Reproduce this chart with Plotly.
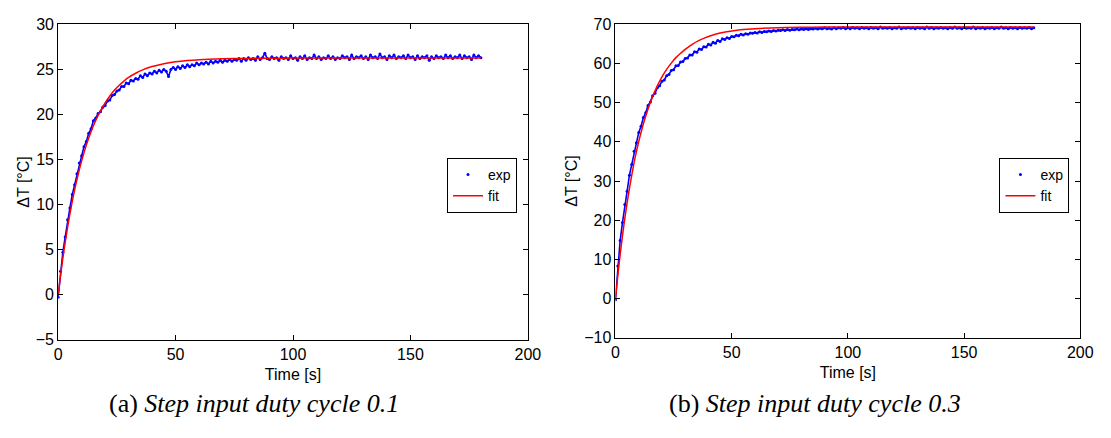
import plotly.graph_objects as go

# ---------------- data ----------------
# time axis of the measurements, one sample per second
t_exp = list(range(0, 181))

# duty cycle 0.1: measured temperature rise [°C]
exp_a = [
    -0.3, 2.6, 4.7, 6.4, 8.3, 9.6, 11.1, 12.2, 13.4, 14.6,
    15.4, 16.4, 17.0, 17.9, 18.4, 19.3, 19.6, 20.1, 20.3, 20.8,
    21.0, 21.5, 21.6, 22.1, 22.2, 22.6, 22.7, 23.1, 23.1, 23.5,
    23.4, 23.8, 23.7, 24.0, 23.9, 24.3, 24.1, 24.5, 24.3, 24.6,
    24.5, 24.8, 24.6, 24.9, 24.7, 25.0, 24.8, 24.2, 25.0, 25.2,
    25.0, 25.3, 25.1, 25.4, 25.2, 25.5, 25.3, 25.5, 25.4, 25.7,
    25.5, 25.7, 25.6, 25.8, 25.6, 25.9, 25.7, 25.9, 25.8, 26.0,
    25.8, 26.0, 25.9, 26.1, 25.9, 26.1, 26.0, 26.2, 25.9, 26.2,
    26.0, 26.3, 26.1, 26.2, 26.0, 26.4, 26.1, 26.3, 26.8, 26.2,
    26.1, 26.4, 26.2, 26.3, 26.0, 26.4, 26.2, 26.3, 26.1, 26.5,
    26.2, 26.3, 26.0, 26.4, 26.2, 26.5, 26.1, 26.3, 26.2, 26.6,
    26.2, 26.4, 26.1, 26.3, 26.2, 26.5, 26.2, 26.4, 26.1, 26.3,
    26.2, 26.5, 26.3, 26.4, 26.1, 26.6, 26.2, 26.4, 26.3, 26.5,
    26.2, 26.4, 26.1, 26.6, 26.3, 26.4, 26.2, 26.7, 26.3, 26.4,
    26.1, 26.5, 26.3, 26.6, 26.2, 26.4, 26.3, 26.5, 26.2, 26.6,
    26.3, 26.4, 26.1, 26.5, 26.2, 26.4, 26.3, 26.5, 26.0, 26.4,
    26.2, 26.5, 26.3, 26.4, 26.2, 26.6, 26.3, 26.5, 26.2, 26.4,
    26.3, 26.6, 26.2, 26.5, 26.3, 26.4, 26.1, 26.6, 26.3, 26.5,
    26.3,
]

# duty cycle 0.3: measured temperature rise [°C]
exp_b = [
    -0.3, 8.3, 14.8, 19.4, 24.0, 27.4, 31.5, 34.2, 37.6, 39.8,
    42.4, 44.0, 46.2, 47.4, 49.3, 50.2, 51.8, 52.4, 53.8, 54.3,
    55.5, 55.8, 56.9, 57.2, 58.2, 58.4, 59.4, 59.5, 60.4, 60.5,
    61.3, 61.4, 62.2, 62.2, 63.0, 62.9, 63.7, 63.6, 64.3, 64.2,
    64.9, 64.7, 65.4, 65.2, 65.9, 65.6, 66.3, 66.1, 66.6, 66.4,
    66.9, 66.8, 67.2, 67.1, 67.5, 67.3, 67.6, 67.5, 67.8, 67.7,
    67.9, 67.8, 68.1, 67.9, 68.2, 68.1, 68.3, 68.2, 68.4, 68.3,
    68.5, 68.4, 68.6, 68.4, 68.7, 68.5, 68.7, 68.6, 68.8, 68.6,
    68.8, 68.7, 68.9, 68.7, 68.9, 68.8, 69.0, 68.8, 69.0, 68.9,
    69.1, 68.9, 69.0, 68.8, 69.1, 68.9, 69.1, 69.0, 69.2, 68.9,
    69.1, 68.9, 69.2, 69.0, 69.1, 68.9, 69.2, 69.0, 69.1, 68.9,
    69.2, 69.0, 69.1, 68.9, 69.3, 69.0, 69.1, 69.0, 69.2, 68.9,
    69.1, 69.0, 69.3, 68.9, 69.1, 69.0, 69.2, 69.0, 69.1, 68.9,
    69.2, 69.0, 69.1, 68.9, 69.3, 69.0, 69.2, 68.9, 69.1, 69.0,
    69.2, 69.0, 69.1, 68.9, 69.2, 69.0, 69.3, 69.0, 69.1, 68.9,
    69.2, 69.0, 69.1, 69.0, 69.3, 68.9, 69.1, 69.0, 69.2, 68.9,
    69.1, 69.0, 69.2, 68.9, 69.1, 69.0, 69.3, 69.0, 69.1, 68.9,
    69.2, 69.0, 69.1, 68.9, 69.2, 69.0, 69.1, 69.0, 69.2, 68.9,
    69.1,
]

# fitted first-order responses
t_fit = [0, 1, 2, 3, 4, 5, 6, 7, 8, 9, 10, 12, 14, 16, 18, 20, 22, 24, 26, 28,
         30, 33, 36, 40, 45, 50, 55, 60, 70, 80, 90, 100, 120, 140, 160, 180]
fit_a = [0.0, 2.10, 4.03, 5.81, 7.44, 8.94, 10.33, 11.60, 12.77, 13.85, 14.84,
         16.59, 18.08, 19.33, 20.39, 21.29, 22.05, 22.70, 23.24, 23.70, 24.10,
         24.57, 24.94, 25.31, 25.63, 25.84, 25.98, 26.07, 26.17, 26.22, 26.24,
         26.25, 26.25, 26.25, 26.25, 26.25]
fit_b = [0.0, 5.9, 11.2, 16.0, 20.4, 24.4, 28.1, 31.5, 34.7, 37.5, 40.1,
         44.6, 48.4, 51.6, 54.3, 56.6, 58.5, 60.1, 61.5, 62.6, 63.6,
         64.9, 65.9, 66.9, 67.8, 68.3, 68.7, 68.9, 69.15, 69.25, 69.3,
         69.3, 69.3, 69.3, 69.3, 69.3]

x_ticks = [0, 50, 100, 150, 200]
y_ticks_a = [-5, 0, 5, 10, 15, 20, 25, 30]
y_ticks_b = [-10, 0, 10, 20, 30, 40, 50, 60, 70]

captions = ["(a) <i>Step input duty cycle 0.1</i>",
            "(b) <i>Step input duty cycle 0.3</i>"]

# ---------------- figure ----------------
W, H = 1111, 438
BLUE = "#0000ff"
RED = "#ff0000"
SANS = "Liberation Sans, Arial, sans-serif"
SERIF = "Liberation Serif, Times New Roman, serif"
FS = 16

fig = go.Figure()

panels = [
    (exp_a, fit_a, "x", "y", "legend"),
    (exp_b, fit_b, "x2", "y2", "legend2"),
]
for exp_vals, fit_vals, xa, ya, lg in panels:
    fig.add_trace(go.Scatter(
        x=t_exp, y=exp_vals, xaxis=xa, yaxis=ya, mode="lines+markers",
        line=dict(color=BLUE, width=1.6), marker=dict(color=BLUE, size=3),
        showlegend=False, hoverinfo="skip"))
    fig.add_trace(go.Scatter(
        x=t_fit, y=fit_vals, xaxis=xa, yaxis=ya, mode="lines",
        line=dict(color=RED, width=1.5, shape="spline", smoothing=0.8),
        showlegend=False, hoverinfo="skip"))
    # legend entries
    fig.add_trace(go.Scatter(
        x=[None], y=[None], xaxis=xa, yaxis=ya, mode="markers", name="exp",
        marker=dict(color=BLUE, size=3), legend=lg))
    fig.add_trace(go.Scatter(
        x=[None], y=[None], xaxis=xa, yaxis=ya, mode="lines", name="fit",
        line=dict(color=RED, width=1.5), legend=lg))

axis_common = dict(
    showgrid=False, zeroline=False, showline=True, linecolor="black",
    linewidth=1, mirror="ticks", ticks="inside", ticklen=5, tickwidth=1,
    tickcolor="black", tickfont=dict(family=SANS, size=FS, color="black"),
)


def px_x(p):
    return p / W


def px_y(p):
    return 1 - p / H


def axis_title(text, standoff):
    return dict(text=text, standoff=standoff,
                font=dict(family=SANS, size=FS, color="black"))


legend_common = dict(
    xanchor="right", yanchor="top", bgcolor="white", bordercolor="black",
    borderwidth=1, font=dict(family=SANS, size=14), itemwidth=30,
    tracegroupgap=0,
)

fig.update_layout(
    width=W, height=H,
    margin=dict(l=0, r=0, t=0, b=0),
    paper_bgcolor="white", plot_bgcolor="white",
    font=dict(family=SANS, size=FS, color="black"),
    xaxis=dict(axis_common, domain=[px_x(55), px_x(532)], range=[0, 200],
               tickvals=x_ticks, anchor="y",
               title=axis_title("Time [s]", 6)),
    yaxis=dict(axis_common, domain=[px_y(345), px_y(17)], range=[-5, 30],
               tickvals=y_ticks_a, anchor="x",
               title=axis_title("ΔT [°C]", 2)),
    xaxis2=dict(axis_common, domain=[px_x(621), px_x(1093)], range=[0, 200],
                tickvals=x_ticks, anchor="y2",
                title=axis_title("Time [s]", 6)),
    yaxis2=dict(axis_common, domain=[px_y(343), px_y(17)], range=[-10, 70],
                tickvals=y_ticks_b, anchor="x2",
                title=axis_title("ΔT [°C]", 2)),
    legend=dict(legend_common, x=px_x(521), y=px_y(156)),
    legend2=dict(legend_common, x=px_x(1082), y=px_y(156)),
    annotations=[
        dict(text=captions[0], x=px_x(254), y=px_y(411), xref="paper",
             yref="paper", showarrow=False, xanchor="center", yanchor="middle",
             font=dict(family=SERIF, size=26, color="black")),
        dict(text=captions[1], x=px_x(824), y=px_y(411), xref="paper",
             yref="paper", showarrow=False, xanchor="center", yanchor="middle",
             font=dict(family=SERIF, size=26, color="black")),
    ],
)

fig.write_html("out.html")
